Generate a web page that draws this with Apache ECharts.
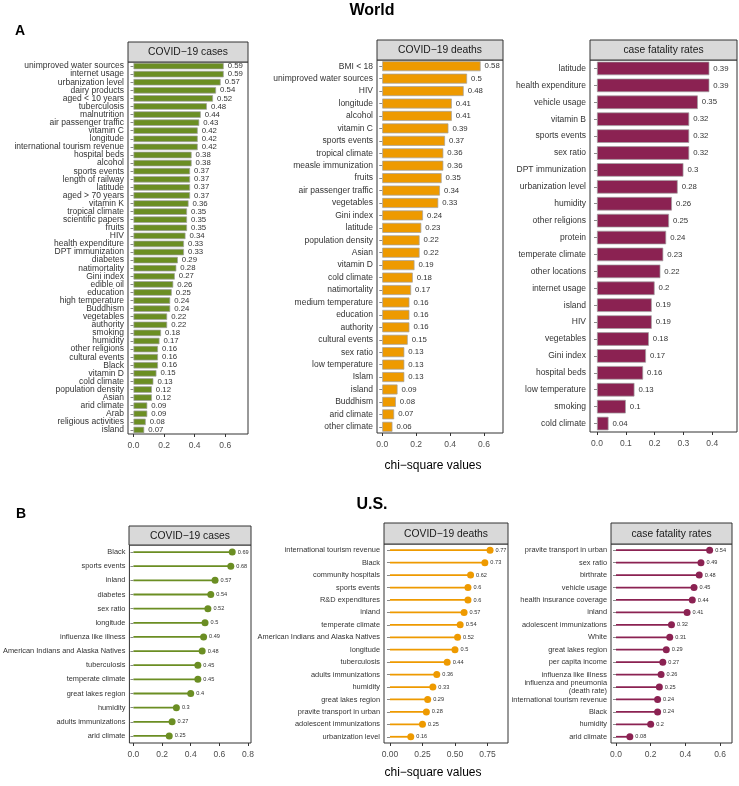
<!DOCTYPE html>
<html><head><meta charset="utf-8">
<script src="https://cdn.jsdelivr.net/npm/echarts@6/dist/echarts.min.js"></script>
<style>html,body{margin:0;padding:0;background:#fff}#c{width:739px;height:786px}</style>
</head><body><div id="c"></div>
<script>
// ---------- DATA ----------
const worldCasesCats = ["unimproved water sources","internet usage","urbanization level","dairy products","aged < 10 years","tuberculosis","malnutrition","air passenger traffic","vitamin C","longitude","international tourism revenue","hospital beds","alcohol","sports events","length of railway","latitude","aged > 70 years","vitamin K","tropical climate","scientific papers","fruits","HIV","health expenditure","DPT immunization","diabetes","natimortality","Gini index","edible oil","education","high temperature","Buddhism","vegetables","authority","smoking","humidity","other religions","cultural events","Black","vitamin D","cold climate","population density","Asian","arid climate","Arab","religious activities","island"];
const worldCasesVals = [0.59,0.59,0.57,0.54,0.52,0.48,0.44,0.43,0.42,0.42,0.42,0.38,0.38,0.37,0.37,0.37,0.37,0.36,0.35,0.35,0.35,0.34,0.33,0.33,0.29,0.28,0.27,0.26,0.25,0.24,0.24,0.22,0.22,0.18,0.17,0.16,0.16,0.16,0.15,0.13,0.12,0.12,0.09,0.09,0.08,0.07];

const worldDeathsCats = ["BMI < 18","unimproved water sources","HIV","longitude","alcohol","vitamin C","sports events","tropical climate","measle immunization","fruits","air passenger traffic","vegetables","Gini index","latitude","population density","Asian","vitamin D","cold climate","natimortality","medium temperature","education","authority","cultural events","sex ratio","low temperature","Islam","island","Buddhism","arid climate","other climate"];
const worldDeathsVals = [0.58,0.5,0.48,0.41,0.41,0.39,0.37,0.36,0.36,0.35,0.34,0.33,0.24,0.23,0.22,0.22,0.19,0.18,0.17,0.16,0.16,0.16,0.15,0.13,0.13,0.13,0.09,0.08,0.07,0.06];

const worldCfrCats = ["latitude","health expenditure","vehicle usage","vitamin B","sports events","sex ratio","DPT immunization","urbanization level","humidity","other religions","protein","temperate climate","other locations","internet usage","island","HIV","vegetables","Gini index","hospital beds","low temperature","smoking","cold climate"];
const worldCfrVals = [0.39,0.39,0.35,0.32,0.32,0.32,0.3,0.28,0.26,0.25,0.24,0.23,0.22,0.2,0.19,0.19,0.18,0.17,0.16,0.13,0.1,0.04];

const usCasesCats = ["Black","sports events","inland","diabetes","sex ratio","longitude","influenza like illness","American Indians and Alaska Natives","tuberculosis","temperate climate","great lakes region","humidity","adults immunizations","arid climate"];
const usCasesVals = [0.69,0.68,0.57,0.54,0.52,0.5,0.49,0.48,0.45,0.45,0.4,0.3,0.27,0.25];

const usDeathsCats = ["international tourism revenue","Black","community hospitals","sports events","R&D expenditures","inland","temperate climate","American Indians and Alaska Natives","longitude","tuberculosis","adults immunizations","humidity","great lakes region","pravite transport in urban","adolescent immunizations","urbanization level"];
const usDeathsVals = [0.77,0.73,0.62,0.6,0.6,0.57,0.54,0.52,0.5,0.44,0.36,0.33,0.29,0.28,0.25,0.16];

const usCfrCats = ["pravite transport in urban","sex ratio","birthrate","vehicle usage","health insurance coverage","inland","adolescent immunizations","White","great lakes region","per capita income","influenza like illness","influenza and pneumonia\n(death rate)","international tourism revenue","Black","humidity","arid climate"];
const usCfrVals = [0.54,0.49,0.48,0.45,0.44,0.41,0.32,0.31,0.29,0.27,0.26,0.25,0.24,0.24,0.2,0.08];

const ticksA12 = [0, 0.2, 0.4, 0.6];
const ticksA3 = [0, 0.1, 0.2, 0.3, 0.4];
const ticksB1 = [0, 0.2, 0.4, 0.6, 0.8];
const ticksB2 = [0, 0.25, 0.5, 0.75];
const ticksB3 = [0, 0.2, 0.4, 0.6];

const panelTitles = ["COVID\u221219 cases","COVID\u221219 deaths","case fatality rates"];

// ---------- LAYOUT ----------
const GREEN = '#6b8e23', ORANGE = '#ee9a00', MAROON = '#8b2252';
const FONT = "'Liberation Sans', Arial, sans-serif";
const panels = [
  {cats: worldCasesCats, vals: worldCasesVals, title: panelTitles[0], color: GREEN, kind: 'bar', x0:128, x1:248, hTop:42, pTop:62, pBot:434, min:-0.036, max:0.749, ticks: ticksA12, dec:1},
  {cats: worldDeathsCats, vals: worldDeathsVals, title: panelTitles[1], color: ORANGE, kind: 'bar', x0:377, x1:503, hTop:40, pTop:60, pBot:433, min:-0.031, max:0.712, ticks: ticksA12, dec:1},
  {cats: worldCfrCats, vals: worldCfrVals, title: panelTitles[2], color: MAROON, kind: 'bar', x0:590, x1:737, hTop:40, pTop:60, pBot:432, min:-0.0243, max:0.486, ticks: ticksA3, dec:1},
  {cats: usCasesCats, vals: usCasesVals, title: panelTitles[0], color: GREEN, kind: 'lolli', x0:129, x1:251, hTop:526, pTop:545, pBot:743, min:-0.028, max:0.821, ticks: ticksB1, dec:1},
  {cats: usDeathsCats, vals: usDeathsVals, title: panelTitles[1], color: ORANGE, kind: 'lolli', x0:384, x1:508, hTop:523, pTop:544, pBot:743, min:-0.046, max:0.908, ticks: ticksB2, dec:2},
  {cats: usCfrCats, vals: usCfrVals, title: panelTitles[2], color: MAROON, kind: 'lolli', x0:611, x1:732, hTop:523, pTop:544, pBot:743, min:-0.0288, max:0.669, ticks: ticksB3, dec:1}
];

const grid = [], xAxis = [], yAxis = [], series = [], graphic = [];
panels.forEach((p, i) => {
  const isA = p.kind === 'bar';
  grid.push({left: p.x0, top: p.pTop, width: p.x1 - p.x0, height: p.pBot - p.pTop,
    show: true, borderColor: '#333', borderWidth: 1, backgroundColor: '#fff', containLabel: false});
  xAxis.push({type: 'value', gridIndex: i, min: p.min, max: p.max,
    axisLine: {show: false}, splitLine: {show: false},
    axisTick: {show: true, length: 3, lineStyle: {color: '#333'}, customValues: p.ticks},
    axisLabel: {customValues: p.ticks, fontSize: 8.5, color: '#4d4d4d', fontFamily: FONT, margin: 7,
      formatter: v => Number(v).toFixed(p.dec)}});
  yAxis.push({type: 'category', gridIndex: i, data: p.cats, inverse: true,
    axisLine: {show: false},
    axisTick: {show: true, length: 3, alignWithLabel: true, interval: 0, lineStyle: {color: '#888'}},
    axisLabel: {interval: 0, hideOverlap: false, fontSize: isA ? 8.5 : 7.4, color: '#333', fontFamily: FONT, margin: 4, lineHeight: 8}});
  if (isA) {
    series.push({type: 'bar', xAxisIndex: i, yAxisIndex: i, data: p.vals, barCategoryGap: '20%',
      itemStyle: {color: p.color, borderColor: '#a0a0a0', borderWidth: 0.7},
      label: {show: true, position: 'right', distance: 4, fontSize: 7.8, color: '#333', fontFamily: FONT,
        formatter: d => String(d.value)}});
  } else {
    series.push({type: 'bar', xAxisIndex: i, yAxisIndex: i, data: p.vals, barWidth: 1.8,
      itemStyle: {color: p.color}});
    series.push({type: 'scatter', xAxisIndex: i, yAxisIndex: i, symbolSize: 7,
      data: p.vals.map((v, k) => [v, k]),
      itemStyle: {color: p.color, opacity: 1},
      label: {show: true, position: 'right', distance: 2, fontSize: 5.6, color: '#333', fontFamily: FONT,
        formatter: d => String(d.value[0])}});
  }
  graphic.push({type: 'rect', shape: {x: p.x0, y: p.hTop, width: p.x1 - p.x0, height: p.pTop - p.hTop},
    style: {fill: '#d9d9d9', stroke: '#333', lineWidth: 1}, z: 10});
  graphic.push({type: 'text', x: (p.x0 + p.x1) / 2, y: (p.hTop + p.pTop) / 2 + 0.5,
    style: {text: p.title, fill: '#1a1a1a', font: '10.3px ' + FONT, align: 'center', verticalAlign: 'middle'}, z: 11});
});

graphic.push({type: 'text', x: 372, y: 11, style: {text: 'World', fill: '#000', font: 'bold 16px ' + FONT, align: 'center', verticalAlign: 'middle'}});
graphic.push({type: 'text', x: 372, y: 505, style: {text: 'U.S.', fill: '#000', font: 'bold 16px ' + FONT, align: 'center', verticalAlign: 'middle'}});
graphic.push({type: 'text', x: 15, y: 31, style: {text: 'A', fill: '#000', font: 'bold 14px ' + FONT, align: 'left', verticalAlign: 'middle'}});
graphic.push({type: 'text', x: 16, y: 514, style: {text: 'B', fill: '#000', font: 'bold 14px ' + FONT, align: 'left', verticalAlign: 'middle'}});
graphic.push({type: 'text', x: 433, y: 466, style: {text: 'chi\u2212square values', fill: '#000', font: '12px ' + FONT, align: 'center', verticalAlign: 'middle'}});
graphic.push({type: 'text', x: 433, y: 773, style: {text: 'chi\u2212square values', fill: '#000', font: '12px ' + FONT, align: 'center', verticalAlign: 'middle'}});

const chart = echarts.init(document.getElementById('c'), null, {renderer: 'canvas'});
chart.setOption({animation: false, backgroundColor: '#fff', grid, xAxis, yAxis, series, graphic});
</script></body></html>
